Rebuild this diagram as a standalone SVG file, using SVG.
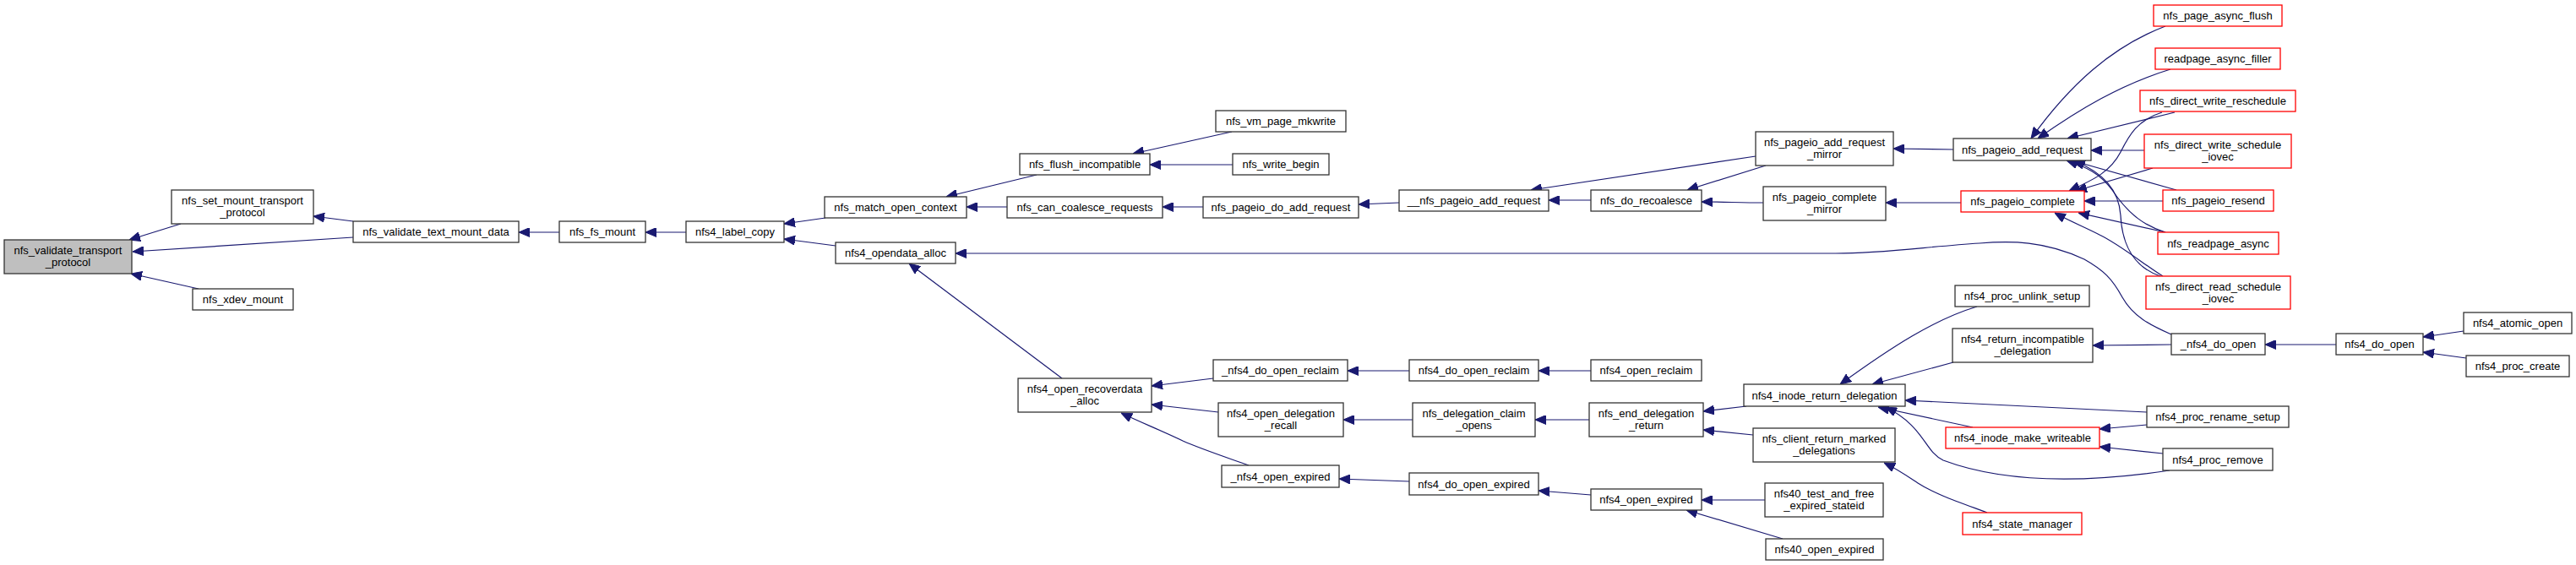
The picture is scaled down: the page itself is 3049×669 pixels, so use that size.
<svg xmlns="http://www.w3.org/2000/svg" width="3049" height="669" viewBox="0 0 3049 669">
<style>
.b{fill:#fff;stroke:#333;stroke-width:1.3}
.r{fill:#fff;stroke:#f00;stroke-width:1.3}
.g{fill:#bfbfbf;stroke:#333;stroke-width:1.3}
text{font-family:"Liberation Sans",Arial,sans-serif;font-size:13px;fill:#000;text-anchor:middle}
.e path{fill:none;stroke:#191970;stroke-width:1.2;marker-end:url(#ah)}
</style>
<defs>
<marker id="ah" viewBox="0 0 13 11" refX="13" refY="5.5" markerWidth="13" markerHeight="11" markerUnits="userSpaceOnUse" orient="auto"><path d="M0,0 L13,5.5 L0,11 Z" fill="#191970" stroke="#191970" stroke-width="1"/></marker>
</defs>
<rect width="3049" height="669" fill="#fff"/>
<g class="e" id="edges">
<path d="M214,265 L153,284"/>
<path d="M418,281 L157,298"/>
<path d="M235,342 L155,324"/>
<path d="M418,262 L371,256"/>
<path d="M662,275 L614,275"/>
<path d="M812,275 L764,275"/>
<path d="M977,258 L928,265"/>
<path d="M989,291 L928,283"/>
<path d="M1227,207 L1120,233"/>
<path d="M1192,245 L1144,245"/>
<path d="M1458,156 L1341,182"/>
<path d="M1459,195 L1361,195"/>
<path d="M1424,245 L1376,245"/>
<path d="M1656,240 L1608,242"/>
<path d="M1883,237 L1833,237"/>
<path d="M2078,185 L1812,225"/>
<path d="M2090,196 L1997,225"/>
<path d="M2087,240 C2060,240 2040,239 2014,239"/>
<path d="M2312,177 L2241,176"/>
<path d="M2321,240 L2232,240"/>
<path d="M2570,396 C2545,385 2525,375 2512,352 C2500,330 2490,320 2467,307 C2420,285 2380,285 2343,288 C2280,292 2230,300 2173,300 L1131,300"/>
<path d="M2563,31 C2500,55 2450,100 2404,164"/>
<path d="M2569,82 C2510,100 2460,130 2412,164"/>
<path d="M2574,133 L2447,164"/>
<path d="M2559,133 C2530,142 2520,160 2510,180 C2498,203 2480,212 2449,226"/>
<path d="M2538,178 L2475,178"/>
<path d="M2548,199 L2457,226"/>
<path d="M2576,225 L2452,190"/>
<path d="M2560,238 L2467,238"/>
<path d="M2563,275 C2540,268 2520,255 2500,225 C2485,205 2470,198 2446,190"/>
<path d="M2563,275 L2460,252"/>
<path d="M2557,327 C2530,318 2512,295 2510,255 C2508,225 2490,205 2455,190"/>
<path d="M2560,327 C2540,315 2510,290 2485,278 C2470,270 2450,262 2432,252"/>
<path d="M1257,448 L1076,312"/>
<path d="M1436,448 L1363,457"/>
<path d="M1442,488 L1363,479"/>
<path d="M1478,551 C1450,541 1420,531 1400,522 C1375,510 1350,500 1327,489"/>
<path d="M1668,439 L1595,439"/>
<path d="M1883,439 L1821,439"/>
<path d="M1672,497 L1590,497"/>
<path d="M1881,497 L1817,497"/>
<path d="M1668,570 L1585,567"/>
<path d="M1883,586 L1821,581"/>
<path d="M2067,481 L2016,487"/>
<path d="M2075,515 L2016,509"/>
<path d="M2089,592 L2014,592"/>
<path d="M2110,638 L1996,604"/>
<path d="M2340,363 C2290,378 2240,410 2178,455"/>
<path d="M2312,429 L2216,455"/>
<path d="M2541,488 L2255,474"/>
<path d="M2541,503 L2485,508"/>
<path d="M2560,537 L2485,529"/>
<path d="M2568,557 C2480,570 2380,575 2300,545 C2278,535 2278,505 2232,482"/>
<path d="M2335,506 L2223,482"/>
<path d="M2352,607 C2320,595 2290,585 2270,572 C2255,562 2245,555 2230,548"/>
<path d="M2570,408 L2477,409"/>
<path d="M2765,408 L2681,408"/>
<path d="M2916,392 L2868,399"/>
<path d="M2919,424 L2868,417"/>
</g>
<g id="n1"><rect class="g" x="5" y="284" width="151" height="40"/><text x="80.5" y="301">nfs_validate_transport</text><text x="80.5" y="315">_protocol</text></g>
<g id="n2"><rect class="b" x="203" y="225" width="168" height="40"/><text x="287" y="242">nfs_set_mount_transport</text><text x="287" y="256">_protocol</text></g>
<g id="n3"><rect class="b" x="228" y="342" width="119" height="25"/><text x="287.5" y="359">nfs_xdev_mount</text></g>
<g id="n4"><rect class="b" x="418" y="262" width="196" height="25"/><text x="516" y="279">nfs_validate_text_mount_data</text></g>
<g id="n5"><rect class="b" x="662" y="262" width="102" height="25"/><text x="713" y="279">nfs_fs_mount</text></g>
<g id="n6"><rect class="b" x="812" y="262" width="116" height="25"/><text x="870" y="279">nfs4_label_copy</text></g>
<g id="n7"><rect class="b" x="976" y="233" width="168" height="25"/><text x="1060" y="250">nfs_match_open_context</text></g>
<g id="n8"><rect class="b" x="989" y="287" width="142" height="25"/><text x="1060" y="304">nfs4_opendata_alloc</text></g>
<g id="n9"><rect class="b" x="1207" y="182" width="154" height="25"/><text x="1284" y="199">nfs_flush_incompatible</text></g>
<g id="n10"><rect class="b" x="1192" y="233" width="184" height="25"/><text x="1284" y="250">nfs_can_coalesce_requests</text></g>
<g id="n11"><rect class="b" x="1439" y="131" width="154" height="25"/><text x="1516" y="148">nfs_vm_page_mkwrite</text></g>
<g id="n12"><rect class="b" x="1459" y="182" width="114" height="25"/><text x="1516" y="199">nfs_write_begin</text></g>
<g id="n13"><rect class="b" x="1424" y="233" width="184" height="25"/><text x="1516" y="250">nfs_pageio_do_add_request</text></g>
<g id="n14"><rect class="b" x="1656" y="225" width="177" height="25"/><text x="1744.5" y="242">__nfs_pageio_add_request</text></g>
<g id="n15"><rect class="b" x="1883" y="225" width="131" height="25"/><text x="1948.5" y="242">nfs_do_recoalesce</text></g>
<g id="n16"><rect class="b" x="2078" y="156" width="163" height="40"/><text x="2159.5" y="173">nfs_pageio_add_request</text><text x="2159.5" y="187">_mirror</text></g>
<g id="n17"><rect class="b" x="2087" y="221" width="145" height="40"/><text x="2159.5" y="238">nfs_pageio_complete</text><text x="2159.5" y="252">_mirror</text></g>
<g id="n18"><rect class="b" x="2312" y="164" width="163" height="26"/><text x="2393.5" y="181.5">nfs_pageio_add_request</text></g>
<g id="n19"><rect class="r" x="2321" y="226" width="146" height="25"/><text x="2394" y="243">nfs_pageio_complete</text></g>
<g id="n20"><rect class="r" x="2549" y="6" width="152" height="25"/><text x="2625" y="23">nfs_page_async_flush</text></g>
<g id="n21"><rect class="r" x="2551" y="57" width="148" height="25"/><text x="2625" y="74">readpage_async_filler</text></g>
<g id="n22"><rect class="r" x="2533" y="107" width="184" height="25"/><text x="2625" y="124">nfs_direct_write_reschedule</text></g>
<g id="n23"><rect class="r" x="2538" y="159" width="174" height="40"/><text x="2625" y="176">nfs_direct_write_schedule</text><text x="2625" y="190">_iovec</text></g>
<g id="n24"><rect class="r" x="2560" y="225" width="131" height="25"/><text x="2625.5" y="242">nfs_pageio_resend</text></g>
<g id="n25"><rect class="r" x="2554" y="275" width="143" height="26"/><text x="2625.5" y="292.5">nfs_readpage_async</text></g>
<g id="n26"><rect class="r" x="2540" y="327" width="171" height="39"/><text x="2625.5" y="343.5">nfs_direct_read_schedule</text><text x="2625.5" y="357.5">_iovec</text></g>
<g id="n27"><rect class="b" x="2570" y="395" width="111" height="25"/><text x="2625.5" y="412">_nfs4_do_open</text></g>
<g id="n28"><rect class="b" x="2765" y="395" width="103" height="25"/><text x="2816.5" y="412">nfs4_do_open</text></g>
<g id="n29"><rect class="b" x="2916" y="370" width="128" height="25"/><text x="2980" y="387">nfs4_atomic_open</text></g>
<g id="n30"><rect class="b" x="2919" y="421" width="122" height="25"/><text x="2980" y="438">nfs4_proc_create</text></g>
<g id="n31"><rect class="b" x="2541" y="481" width="168" height="25"/><text x="2625" y="498">nfs4_proc_rename_setup</text></g>
<g id="n32"><rect class="b" x="2560" y="531" width="130" height="26"/><text x="2625" y="548.5">nfs4_proc_remove</text></g>
<g id="n33"><rect class="b" x="1205" y="448" width="158" height="40"/><text x="1284" y="465">nfs4_open_recoverdata</text><text x="1284" y="479">_alloc</text></g>
<g id="n34"><rect class="b" x="1436" y="426" width="159" height="25"/><text x="1515.5" y="443">_nfs4_do_open_reclaim</text></g>
<g id="n35"><rect class="b" x="1442" y="477" width="148" height="40"/><text x="1516" y="494">nfs4_open_delegation</text><text x="1516" y="508">_recall</text></g>
<g id="n36"><rect class="b" x="1446" y="551" width="139" height="26"/><text x="1515.5" y="568.5">_nfs4_open_expired</text></g>
<g id="n37"><rect class="b" x="1668" y="426" width="153" height="25"/><text x="1744.5" y="443">nfs4_do_open_reclaim</text></g>
<g id="n38"><rect class="b" x="1883" y="426" width="131" height="25"/><text x="1948.5" y="443">nfs4_open_reclaim</text></g>
<g id="n39"><rect class="b" x="1672" y="477" width="145" height="40"/><text x="1744.5" y="494">nfs_delegation_claim</text><text x="1744.5" y="508">_opens</text></g>
<g id="n40"><rect class="b" x="1881" y="477" width="135" height="40"/><text x="1948.5" y="494">nfs_end_delegation</text><text x="1948.5" y="508">_return</text></g>
<g id="n41"><rect class="b" x="1668" y="560" width="153" height="26"/><text x="1744.5" y="577.5">nfs4_do_open_expired</text></g>
<g id="n42"><rect class="b" x="1883" y="579" width="131" height="25"/><text x="1948.5" y="596">nfs4_open_expired</text></g>
<g id="n43"><rect class="b" x="2314" y="338" width="159" height="25"/><text x="2393.5" y="355">nfs4_proc_unlink_setup</text></g>
<g id="n44"><rect class="b" x="2311" y="389" width="166" height="40"/><text x="2394" y="406">nfs4_return_incompatible</text><text x="2394" y="420">_delegation</text></g>
<g id="n45"><rect class="b" x="2064" y="455" width="191" height="26"/><text x="2159.5" y="472.5">nfs4_inode_return_delegation</text></g>
<g id="n46"><rect class="b" x="2075" y="507" width="168" height="40"/><text x="2159" y="524">nfs_client_return_marked</text><text x="2159" y="538">_delegations</text></g>
<g id="n47"><rect class="r" x="2303" y="506" width="182" height="25"/><text x="2394" y="523">nfs4_inode_make_writeable</text></g>
<g id="n48"><rect class="b" x="2089" y="572" width="140" height="40"/><text x="2159" y="589">nfs40_test_and_free</text><text x="2159" y="603">_expired_stateid</text></g>
<g id="n49"><rect class="b" x="2090" y="638" width="139" height="25"/><text x="2159.5" y="655">nfs40_open_expired</text></g>
<g id="n50"><rect class="r" x="2323" y="607" width="141" height="26"/><text x="2393.5" y="624.5">nfs4_state_manager</text></g>
</svg>
